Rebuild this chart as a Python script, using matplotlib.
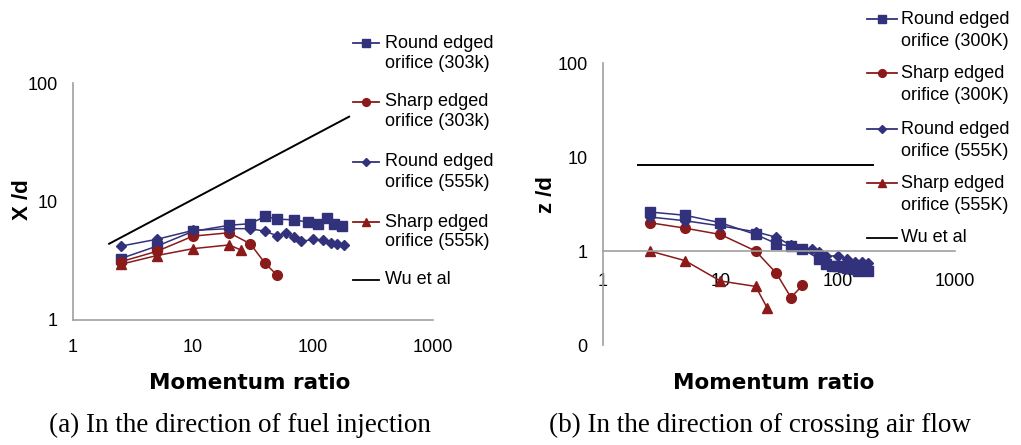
import matplotlib
matplotlib.use('Agg')
import matplotlib.pyplot as plt
from matplotlib.lines import Line2D
from matplotlib.ticker import FixedLocator, FixedFormatter, NullLocator

plt.rcParams['font.family'] = ['Liberation Sans', 'DejaVu Sans']

# ---- data, panel (a): x/d vs momentum ratio ----
a_round303_x = [2.5, 5, 10, 20, 30, 40, 50, 70, 90, 110, 130, 150, 175]
a_round303_y = [3.3, 4.2, 5.6, 6.3, 6.5, 7.5, 7.1, 7.0, 6.7, 6.4, 7.3, 6.4, 6.2]
a_sharp303_x = [2.5, 5, 10, 20, 30, 40, 50]
a_sharp303_y = [3.1, 3.8, 5.1, 5.45, 4.4, 3.0, 2.4]
a_round555_x = [2.5, 5, 10, 20, 30, 40, 50, 60, 70, 80, 100, 120, 140, 160, 180]
a_round555_y = [4.2, 4.8, 5.7, 5.9, 5.9, 5.6, 5.15, 5.4, 5.0, 4.6, 4.8, 4.7, 4.5, 4.35, 4.3]
a_sharp555_x = [2.5, 5, 10, 20, 25]
a_sharp555_y = [2.95, 3.5, 4.0, 4.3, 3.9]
a_wu_x = [2, 200]
a_wu_y = [4.4, 52]

# ---- data, panel (b): z/d vs momentum ratio ----
b_round300_x = [2.5, 5, 10, 20, 30, 40, 50, 70, 80, 90, 100, 110, 120, 130, 140, 150, 160, 180]
b_round300_y = [2.6, 2.4, 2.0, 1.5, 1.2, 1.12, 1.05, 0.82, 0.72, 0.7, 0.7, 0.68, 0.66, 0.66, 0.64, 0.62, 0.64, 0.62]
b_sharp300_x = [2.5, 5, 10, 20, 30, 40, 50]
b_sharp300_y = [2.0, 1.75, 1.5, 1.0, 0.58, 0.32, 0.43]
b_round555_x = [2.5, 5, 10, 20, 30, 40, 50, 60, 70, 80, 100, 120, 140, 160, 180]
b_round555_y = [2.3, 2.1, 1.85, 1.6, 1.4, 1.15, 1.05, 1.05, 0.97, 0.88, 0.89, 0.82, 0.77, 0.76, 0.75]
b_sharp555_x = [2.5, 5, 10, 20, 25]
b_sharp555_y = [1.0, 0.79, 0.48, 0.42, 0.25]
b_wu_x = [2, 200]
b_wu_y = [8.2, 8.2]

labels_a = [('Round edged', 'orifice (303k)'), ('Sharp edged', 'orifice (303k)'),
            ('Round edged', 'orifice (555k)'), ('Sharp edged', 'orifice (555k)'),
            ('Wu et al', None)]
labels_b = [('Round edged', 'orifice (300K)'), ('Sharp edged', 'orifice (300K)'),
            ('Round edged', 'orifice (555K)'), ('Sharp edged', 'orifice (555K)'),
            ('Wu et al', None)]

blue = '#31317c'
red = '#8b1a1a'
grey = '#a0a0a0'
styles = [(blue, 's', 7), (red, 'o', 7), (blue, 'D', 5.5), (red, '^', 7.5), ('black', None, 0)]

W, H = 1021, 445
fig = plt.figure(figsize=(W / 100, H / 100), dpi=100)


def px_axes(x0, y0, x1, y1):
    return fig.add_axes([x0 / W, 1 - y1 / H, (x1 - x0) / W, (y1 - y0) / H])


def draw_series(ax, series):
    for (xs, ys), (c, m, ms) in zip(series, styles):
        if m is None:
            ax.plot(xs, ys, color=c, lw=1.4)
        else:
            ax.plot(xs, ys, color=c, lw=1.1, marker=m, ms=ms, mec=c, mfc=c)


def style_axes(ax, ylim, ylabels, ytick_vals):
    ax.set_xscale('log')
    ax.set_yscale('log')
    ax.set_xlim(1, 1000)
    ax.set_ylim(*ylim)
    ax.xaxis.set_major_locator(FixedLocator([1, 10, 100, 1000]))
    ax.xaxis.set_major_formatter(FixedFormatter(['1', '10', '100', '1000']))
    ax.yaxis.set_major_locator(FixedLocator(ytick_vals))
    ax.yaxis.set_major_formatter(FixedFormatter(ylabels))
    ax.xaxis.set_minor_locator(NullLocator())
    ax.yaxis.set_minor_locator(NullLocator())
    ax.tick_params(length=0, labelsize=13, colors='black')
    ax.tick_params(axis='x', pad=14)
    ax.tick_params(axis='y', pad=11)
    for s in ['top', 'right']:
        ax.spines[s].set_visible(False)
    for s in ['left', 'bottom']:
        ax.spines[s].set_color(grey)
        ax.spines[s].set_linewidth(1.2)
    ax.patch.set_alpha(0)


def draw_legend(entries, x_line0, x_line1, x_text, ys, dy):
    for (l1, l2), (c, m, ms), y in zip(entries, styles, ys):
        fy = 1 - y / H
        fig.add_artist(Line2D([x_line0 / W, x_line1 / W], [fy, fy], color=c, lw=1.3,
                              transform=fig.transFigure))
        if m is not None:
            fig.add_artist(Line2D([(x_line0 + x_line1) / 2 / W], [fy], color=c, marker=m,
                                  ms=ms * 0.8, transform=fig.transFigure))
        fig.text(x_text / W, fy, l1, fontsize=13, va='center', ha='left')
        if l2:
            fig.text(x_text / W, 1 - (y + dy) / H, l2, fontsize=13, va='center', ha='left')


# panel (a)
ax1 = px_axes(73, 83, 433, 320)
draw_series(ax1, [(a_round303_x, a_round303_y), (a_sharp303_x, a_sharp303_y),
                  (a_round555_x, a_round555_y), (a_sharp555_x, a_sharp555_y),
                  (a_wu_x, a_wu_y)])
style_axes(ax1, (1, 100), ['1', '10', '100'], [1, 10, 100])

# panel (b)
ax2 = px_axes(603, 63, 955, 345)
draw_series(ax2, [(b_round300_x, b_round300_y), (b_sharp300_x, b_sharp300_y),
                  (b_round555_x, b_round555_y), (b_sharp555_x, b_sharp555_y),
                  (b_wu_x, b_wu_y)])
style_axes(ax2, (0.1, 100), ['0', '1', '10', '100'], [0.1, 1, 10, 100])
ax2.spines['bottom'].set_position(('data', 1))
ax2.tick_params(axis='x', pad=16)

# legends
draw_legend(labels_a, 353, 379, 385, [43, 102, 162, 222, 280], 20)
draw_legend(labels_b, 867, 897, 901, [19, 73, 129, 183, 238], 23)

# axis titles
fig.text(22 / W, 1 - 200 / H, 'X /d', rotation=90, fontsize=16, fontweight='bold',
         ha='center', va='center')
fig.text(546 / W, 1 - 195 / H, 'z /d', rotation=90, fontsize=16, fontweight='bold',
         ha='center', va='center')
fig.text(250 / W, 1 - 383 / H, 'Momentum ratio', fontsize=15.5, fontweight='bold',
         family='DejaVu Sans', ha='center', va='center')
fig.text(774 / W, 1 - 383 / H, 'Momentum ratio', fontsize=15.5, fontweight='bold',
         family='DejaVu Sans', ha='center', va='center')

# captions
fig.text(240 / W, 1 - 425 / H, '(a) In the direction of fuel injection', fontsize=19.5,
         family='Liberation Serif', ha='center', va='center')
fig.text(760 / W, 1 - 425 / H, '(b) In the direction of crossing air flow', fontsize=19.5,
         family='Liberation Serif', ha='center', va='center')

fig.savefig('out.png', dpi=100)
